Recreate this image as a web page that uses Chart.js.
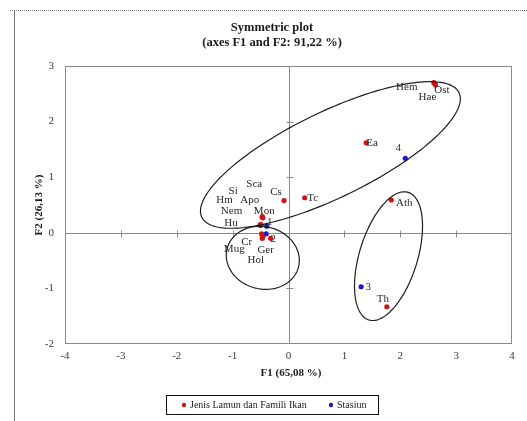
<!DOCTYPE html>
<html>
<head>
<meta charset="utf-8">
<script src="https://cdn.jsdelivr.net/npm/chart.js@4"></script>
<style>
  html, body { margin: 0; padding: 0; background: #fff; }
  canvas { display: block; }
</style>
</head>
<body>
<canvas id="chart" width="527" height="421"></canvas>
<script>
// Seagrass species and fish families (F1, F2 coordinates)
const speciesNames = ['Ost', 'Hem', 'Hae', 'Ea', 'Ath', 'Th', 'Tc', 'Cs', 'Sca', 'Si', 'Apo', 'Hm', 'Nem', 'Mon', 'Hu', 'Cr', 'Mug', 'Ger', 'Hol'];
const speciesF1 = [2.62, 2.60, 2.63, 1.39, 1.84, 1.76, 0.29, -0.08, -0.47, -0.49, -0.46, -0.50, -0.50, -0.47, -0.51, -0.48, -0.47, -0.32, -0.46];
const speciesF2 = [2.68, 2.70, 2.66, 1.62, 0.59, -1.33, 0.63, 0.58, 0.29, 0.14, 0.27, 0.13, 0.15, 0.28, 0.14, -0.02, -0.10, -0.10, -0.08];

// Sampling stations
const stationNames = ['1', '2', '3', '4'];
const stationF1 = [-0.39, -0.40, 1.30, 2.09];
const stationF2 = [0.12, -0.02, -0.97, 1.34];

// Axis ticks
const xTickValues = [-4, -3, -2, -1, 0, 1, 2, 3, 4];
const yTickValues = [-2, -1, 0, 1, 2, 3];

// Group ellipses: centre, semi-axes and rotation (degrees)
const ellipseCx = [0.75, -0.46, 1.79];
const ellipseCy = [1.40, -0.45, -0.42];
const ellipseA = [2.56, 0.66, 1.20];
const ellipseB = [0.77, 0.56, 0.52];
const ellipseAngle = [26, -15, 73];

// Label placement (pixel offsets from each point)
const speciesLabelDX = [7, -27, -8, 6, 13, -4, 8, -8, -8, -28, -13, -36, -29, 2, -29, -15, -28, -5, -7];
const speciesLabelDY = [6, 4, 12, 0, 3, -8, 0, -8, -33, -34, -18, -25, -13, -6, -2, 8, 11, 12, 23];
const stationLabelDX = [3, 7, 7, -7];
const stationLabelDY = [-4, 5, 0, -10];

const SERIF = "'Liberation Serif', 'Times New Roman', serif";
const RED = '#d01414';
const BLUE = '#1a1ac8';
const AXIS_GREY = '#8a8a8a';

const speciesPoints = speciesF1.map((x, i) => ({ x: x, y: speciesF2[i] }));
const stationPoints = stationF1.map((x, i) => ({ x: x, y: stationF2[i] }));

const decorPlugin = {
  id: 'decor',
  beforeDraw(chart) {
    const ctx = chart.ctx;
    ctx.save();
    // page frame
    ctx.strokeStyle = '#777';
    ctx.lineWidth = 1;
    ctx.setLineDash([1, 1]);
    ctx.beginPath();
    ctx.moveTo(10, 10.5);
    ctx.lineTo(527, 10.5);
    ctx.stroke();
    ctx.setLineDash([]);
    ctx.beginPath();
    ctx.moveTo(14.5, 11);
    ctx.lineTo(14.5, 421);
    ctx.stroke();

    // plot border and zero lines
    const a = chart.chartArea;
    const xs = chart.scales.x, ys = chart.scales.y;
    ctx.strokeStyle = AXIS_GREY;
    ctx.strokeRect(Math.round(a.left) + 0.5, Math.round(a.top) + 0.5,
                   Math.round(a.right - a.left) - 1, Math.round(a.bottom - a.top) - 1);
    const x0 = Math.round(xs.getPixelForValue(0)) + 0.5;
    const y0 = Math.round(ys.getPixelForValue(0)) + 0.5;
    ctx.beginPath();
    ctx.moveTo(a.left, y0); ctx.lineTo(a.right, y0);
    ctx.moveTo(x0, a.top); ctx.lineTo(x0, a.bottom);
    // small cross ticks on the zero lines
    xTickValues.forEach(v => {
      if (v === 0 || v === -4 || v === 4) return;
      const px = Math.round(xs.getPixelForValue(v)) + 0.5;
      ctx.moveTo(px, y0 - 3); ctx.lineTo(px, y0 + 4);
    });
    yTickValues.forEach(v => {
      if (v === 0 || v === -2 || v === 3) return;
      const py = Math.round(ys.getPixelForValue(v)) + 0.5;
      ctx.moveTo(x0 - 3, py); ctx.lineTo(x0 + 4, py);
    });
    ctx.stroke();
    ctx.restore();
  },
  afterDatasetsDraw(chart) {
    const ctx = chart.ctx;
    const xs = chart.scales.x, ys = chart.scales.y;
    ctx.save();
    // group ellipses
    ctx.strokeStyle = '#1e1e1e';
    ctx.lineWidth = 1.2;
    ellipseCx.forEach((cx, k) => {
      const th = ellipseAngle[k] * Math.PI / 180;
      ctx.beginPath();
      for (let d = 0; d <= 360; d += 2) {
        const t = d * Math.PI / 180;
        const dx = ellipseA[k] * Math.cos(t);
        const dy = ellipseB[k] * Math.sin(t);
        const x = cx + dx * Math.cos(th) - dy * Math.sin(th);
        const y = ellipseCy[k] + dx * Math.sin(th) + dy * Math.cos(th);
        const px = xs.getPixelForValue(x), py = ys.getPixelForValue(y);
        if (d === 0) ctx.moveTo(px, py); else ctx.lineTo(px, py);
      }
      ctx.closePath();
      ctx.stroke();
    });

    // point labels
    ctx.fillStyle = '#2a2a2a';
    ctx.font = '11px ' + SERIF;
    ctx.textAlign = 'center';
    ctx.textBaseline = 'middle';
    const m0 = chart.getDatasetMeta(0).data;
    speciesNames.forEach((n, i) => {
      ctx.fillText(n, m0[i].x + speciesLabelDX[i], m0[i].y + speciesLabelDY[i]);
    });
    const m1 = chart.getDatasetMeta(1).data;
    stationNames.forEach((n, i) => {
      ctx.fillText(n, m1[i].x + stationLabelDX[i], m1[i].y + stationLabelDY[i]);
    });
    ctx.restore();
  },
  afterDraw(chart) {
    const ctx = chart.ctx;
    ctx.save();
    ctx.fillStyle = '#1a1a1a';
    ctx.textAlign = 'center';
    ctx.textBaseline = 'middle';
    // title
    ctx.font = 'bold 12.5px ' + SERIF;
    ctx.fillText('Symmetric plot', 272, 28);
    ctx.fillText('(axes F1 and F2: 91,22 %)', 272, 43);
    // axis titles
    ctx.font = 'bold 11px ' + SERIF;
    ctx.fillText('F1 (65,08 %)', 291, 373);
    ctx.save();
    ctx.translate(39, 205);
    ctx.rotate(-Math.PI / 2);
    ctx.fillText('F2 (26,13 %)', 0, 0);
    ctx.restore();

    // legend
    ctx.strokeStyle = '#111';
    ctx.lineWidth = 1;
    ctx.strokeRect(166.5, 395.5, 212, 19);
    ctx.font = '10px ' + SERIF;
    ctx.textAlign = 'left';
    const items = chart.data.datasets;
    const dotX = [184, 331];
    items.forEach((ds, i) => {
      ctx.fillStyle = ds.backgroundColor;
      ctx.beginPath();
      ctx.arc(dotX[i], 405, 2.2, 0, Math.PI * 2);
      ctx.fill();
      ctx.fillStyle = '#1a1a1a';
      ctx.fillText(ds.label, dotX[i] + 6, 405.5);
    });
    ctx.restore();
  }
};

new Chart(document.getElementById('chart'), {
  type: 'scatter',
  data: {
    datasets: [
      {
        label: 'Jenis Lamun dan Famili Ikan',
        data: speciesPoints,
        backgroundColor: RED,
        borderColor: RED,
        pointRadius: 2.6,
        borderWidth: 0
      },
      {
        label: 'Stasiun',
        data: stationPoints,
        backgroundColor: BLUE,
        borderColor: BLUE,
        pointRadius: 2.6,
        borderWidth: 0
      }
    ]
  },
  options: {
    responsive: false,
    animation: false,
    devicePixelRatio: 1,
    layout: { padding: { top: 66, right: 15, bottom: 0, left: 0 } },
    plugins: {
      legend: { display: false },
      title: { display: false },
      tooltip: { enabled: false }
    },
    scales: {
      x: {
        type: 'linear',
        min: -4, max: 4,
        afterBuildTicks: s => { s.ticks = xTickValues.map(v => ({ value: v })); },
        afterFit: s => { s.height = 77; },
        grid: { display: false, drawTicks: false },
        border: { display: false },
        ticks: { padding: 6, color: '#3a3a3a', font: { family: SERIF, size: 11 }, maxRotation: 0 }
      },
      y: {
        type: 'linear',
        min: -2, max: 3,
        afterBuildTicks: s => { s.ticks = yTickValues.map(v => ({ value: v })); },
        afterFit: s => { s.width = 65; },
        grid: { display: false, drawTicks: false },
        border: { display: false },
        ticks: { padding: 11, color: '#3a3a3a', font: { family: SERIF, size: 11 } }
      }
    }
  },
  plugins: [decorPlugin]
});
</script>
</body>
</html>
